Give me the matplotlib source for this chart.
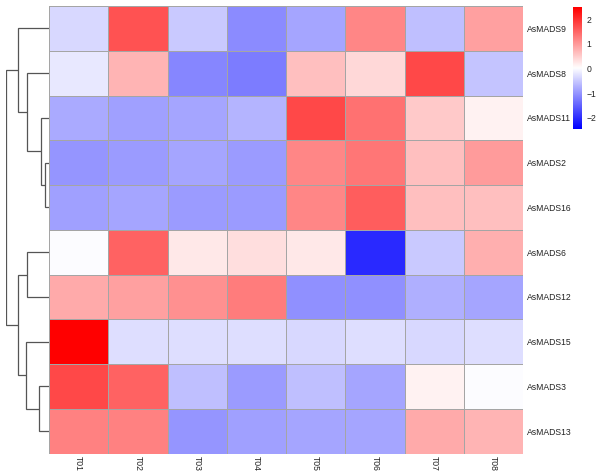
import numpy as np
import matplotlib
matplotlib.use("Agg")
import matplotlib.pyplot as plt
from matplotlib.colors import LinearSegmentedColormap, BoundaryNorm

plt.rcParams['font.family'] = ['Liberation Sans', 'DejaVu Sans']

genes = ["AsMADS9", "AsMADS8", "AsMADS11", "AsMADS2", "AsMADS16",
         "AsMADS6", "AsMADS12", "AsMADS15", "AsMADS3", "AsMADS13"]
samples = ["T01", "T02", "T03", "T04", "T05", "T06", "T07", "T08"]

AsMADS9  = [-0.35, 1.66, -0.49, -1.11, -0.82, 1.16, -0.62, 0.92]
AsMADS8  = [-0.22, 0.72, -1.16, -1.24, 0.63, 0.39, 1.75, -0.53]
AsMADS11 = [-0.77, -0.87, -0.82, -0.70, 1.75, 1.36, 0.54, 0.12]
AsMADS2  = [-0.97, -0.95, -0.82, -0.92, 1.16, 1.31, 0.63, 0.97]
AsMADS16 = [-0.87, -0.85, -0.95, -0.92, 1.16, 1.56, 0.63, 0.63]
AsMADS6  = [-0.02, 1.51, 0.22, 0.34, 0.22, -2.05, -0.49, 0.77]
AsMADS12 = [0.82, 0.92, 1.06, 1.26, -1.06, -1.04, -0.72, -0.82]
AsMADS15 = [2.48, -0.31, -0.31, -0.31, -0.35, -0.31, -0.35, -0.31]
AsMADS3  = [1.75, 1.51, -0.62, -0.92, -0.62, -0.85, 0.12, -0.02]
AsMADS13 = [1.21, 1.21, -1.01, -0.87, -0.82, -0.82, 0.82, 0.72]

# row dendrogram merges: (child_a, child_b, height); leaves 0..9, clusters 10+
merges = [
    (3, 4, 3.7),
    (2, 10, 8.3),
    (1, 11, 22.3),
    (0, 12, 30.7),
    (8, 9, 9.7),
    (7, 14, 23.0),
    (5, 6, 21.7),
    (16, 15, 30.7),
    (13, 17, 43.0),
]

legend_ticks = [-2, -1, 0, 1, 2]
vmin, vmax = -2.445, 2.485

data = np.array([AsMADS9, AsMADS8, AsMADS11, AsMADS2, AsMADS16,
                 AsMADS6, AsMADS12, AsMADS15, AsMADS3, AsMADS13])

W, H = 600, 476
fig = plt.figure(figsize=(W / 100, H / 100), dpi=100)

def fx(px):
    return px / W

def fy(py):
    return 1 - py / H

hm_l, hm_r, hm_t, hm_b = 49, 523, 6, 453.5
cmap = LinearSegmentedColormap.from_list("bwr2", ["#0000FF", "#FFFFFF", "#FF0000"], N=100)
bounds = np.linspace(vmin, vmax, 101)
norm = BoundaryNorm(bounds, cmap.N)

ax = fig.add_axes([fx(hm_l), fy(hm_b), fx(hm_r - hm_l), (hm_b - hm_t) / H])
nr, nc = data.shape
ax.pcolormesh(np.arange(nc + 1), np.arange(nr + 1), data, cmap=cmap, norm=norm,
              edgecolors="#A5A5A5", linewidth=0.7)
ax.set_xlim(0, nc)
ax.set_ylim(nr, 0)
for s in ax.spines.values():
    s.set_visible(False)
ax.set_xticks(np.arange(nc) + 0.5)
ax.set_xticklabels(samples, rotation=270, fontsize=6.2, color="#222222")
ax.set_yticks(np.arange(nr) + 0.5)
ax.set_yticklabels(genes, fontsize=6.2, color="#222222")
ax.yaxis.tick_right()
ax.tick_params(length=0, pad=3)
ax.tick_params(axis="x", pad=2)

# dendrogram
dax = fig.add_axes([fx(6), fy(hm_b), fx(hm_l - 6), (hm_b - hm_t) / H])
pos = {i: (i + 0.5, 0.0) for i in range(nr)}
for k, (a, b, h) in enumerate(merges):
    ya, ha = pos[a]
    yb, hb = pos[b]
    dax.plot([ha, h, h, hb], [ya, ya, yb, yb], color="#555555", lw=0.9,
             solid_joinstyle="miter", solid_capstyle="butt")
    pos[nr + k] = ((ya + yb) / 2, h)
root_h = merges[-1][2]
dax.set_xlim(root_h, 0)
dax.set_ylim(nr, 0)
dax.axis("off")

# colour legend
cax = fig.add_axes([fx(573), fy(129), fx(9), 122 / H])
grad = np.linspace(vmin, vmax, 200).reshape(-1, 1)
cax.imshow(grad, cmap=cmap, norm=norm, aspect="auto", origin="lower",
           extent=[0, 1, vmin, vmax])
cax.set_xlim(0, 1)
cax.set_ylim(vmin, vmax)
cax.set_xticks([])
cax.set_yticks(legend_ticks)
cax.set_yticklabels(["\u2212" + str(abs(t)) if t < 0 else str(t) for t in legend_ticks],
                    fontsize=6.2, color="#222222")
cax.yaxis.tick_right()
cax.tick_params(length=0, pad=3)
for s in cax.spines.values():
    s.set_visible(False)

fig.savefig("out.png", dpi=100)
